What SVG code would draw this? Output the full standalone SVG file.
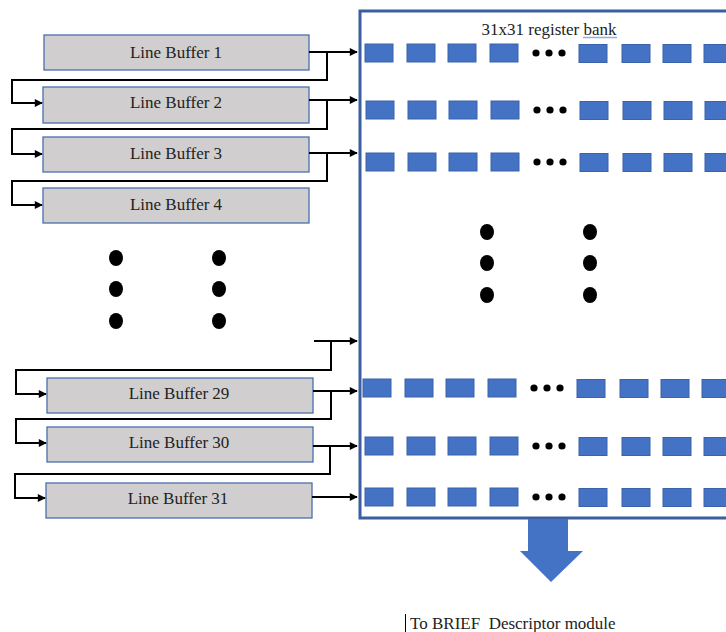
<svg xmlns="http://www.w3.org/2000/svg" width="726" height="632" viewBox="0 0 726 632">
<style>
.lb{fill:#d0cece;stroke:#4a6fae;stroke-width:1.3}
.t{font-family:"Liberation Serif","Times New Roman","DejaVu Serif",serif;font-size:17px;fill:#222;text-anchor:middle}
.c{fill:none;stroke:#000;stroke-width:2}
.r{fill:#4472c4;stroke:#3a62a8;stroke-width:1}
.d{fill:#000}
</style>
<defs>
<marker id="ah" viewBox="0 0 10 10" refX="9" refY="5" markerWidth="9" markerHeight="8" markerUnits="userSpaceOnUse" orient="auto"><path d="M0,0 L10,5 L0,10 z" fill="#000"/></marker>
<g id="row">
<rect class="r" x="0" y="0" width="28" height="18"/>
<rect class="r" x="42" y="0" width="28" height="18"/>
<rect class="r" x="83" y="0" width="28" height="18"/>
<rect class="r" x="125" y="0" width="28" height="18"/>
<circle class="d" cx="171" cy="9" r="3.6"/>
<circle class="d" cx="184" cy="9" r="3.6"/>
<circle class="d" cx="197" cy="9" r="3.6"/>
<rect class="r" x="214" y="0.5" width="28" height="18"/>
<rect class="r" x="257" y="0.5" width="28" height="18"/>
<rect class="r" x="298" y="0.5" width="28" height="18"/>
<rect class="r" x="339" y="0.5" width="28" height="18"/>
</g>
</defs>

<g id="register-bank">
<rect x="360" y="11" width="380" height="507" fill="none" stroke="#3b5ea0" stroke-width="3"/>
<text class="t" x="549" y="35">31x31 register bank</text>
<line x1="583" y1="37.5" x2="617" y2="37.5" stroke="#8fb0e8" stroke-width="1.5"/>
<use href="#row" x="365" y="44"/>
<use href="#row" x="366" y="101"/>
<use href="#row" x="366" y="153"/>
<use href="#row" x="363" y="379"/>
<use href="#row" x="365" y="437"/>
<use href="#row" x="365" y="488"/>
<ellipse class="d" cx="487" cy="232" rx="7" ry="8"/>
<ellipse class="d" cx="487" cy="263" rx="7" ry="8"/>
<ellipse class="d" cx="487" cy="295" rx="7" ry="8"/>
<ellipse class="d" cx="590" cy="232" rx="7" ry="8"/>
<ellipse class="d" cx="590" cy="263" rx="7" ry="8"/>
<ellipse class="d" cx="590" cy="295" rx="7" ry="8"/>
</g>

<g id="lb1"><rect class="lb" x="44" y="35" width="265" height="35"/><text class="t" x="176" y="58">Line Buffer 1</text></g>
<g id="lb2"><rect class="lb" x="43" y="87" width="266" height="36"/><text class="t" x="176" y="108">Line Buffer 2</text></g>
<g id="lb3"><rect class="lb" x="43" y="137" width="266" height="35"/><text class="t" x="176" y="159">Line Buffer 3</text></g>
<g id="lb4"><rect class="lb" x="43" y="188" width="266" height="35"/><text class="t" x="176" y="210">Line Buffer 4</text></g>
<g id="lb29"><rect class="lb" x="47" y="378" width="266" height="35"/><text class="t" x="179" y="399">Line Buffer 29</text></g>
<g id="lb30"><rect class="lb" x="47" y="427" width="266" height="35"/><text class="t" x="179" y="448">Line Buffer 30</text></g>
<g id="lb31"><rect class="lb" x="46" y="483" width="266" height="35"/><text class="t" x="178" y="504">Line Buffer 31</text></g>

<g id="left-dots">
<ellipse class="d" cx="116" cy="258" rx="7" ry="8"/>
<ellipse class="d" cx="116" cy="289" rx="7" ry="8"/>
<ellipse class="d" cx="116" cy="321" rx="7" ry="8"/>
<ellipse class="d" cx="219" cy="258" rx="7" ry="8"/>
<ellipse class="d" cx="219" cy="289" rx="7" ry="8"/>
<ellipse class="d" cx="219" cy="321" rx="7" ry="8"/>
</g>

<g id="connectors">
<path class="c" d="M309,52 H357" marker-end="url(#ah)"/>
<path class="c" d="M327,52 V80 H12 V103 H42" marker-end="url(#ah)"/>
<path class="c" d="M309,100 H357" marker-end="url(#ah)"/>
<path class="c" d="M327,100 V129 H12 V154 H42" marker-end="url(#ah)"/>
<path class="c" d="M309,153 H357" marker-end="url(#ah)"/>
<path class="c" d="M327,153 V181 H12 V205 H42" marker-end="url(#ah)"/>
<path class="c" d="M314,341 H357" marker-end="url(#ah)"/>
<path class="c" d="M331,341 V370 H16 V394 H46" marker-end="url(#ah)"/>
<path class="c" d="M313,391 H357" marker-end="url(#ah)"/>
<path class="c" d="M331,391 V419 H16 V443 H46" marker-end="url(#ah)"/>
<path class="c" d="M313,446 H357" marker-end="url(#ah)"/>
<path class="c" d="M330,446 V474 H15 V498 H45" marker-end="url(#ah)"/>
<path class="c" d="M312,497 H357" marker-end="url(#ah)"/>
</g>

<g id="output-arrow">
<path d="M528,519 H568 V551 H583 L551,582 L520,551 H528 Z" fill="#4472c4"/>
</g>
<g id="output-label">
<line x1="405.5" y1="614" x2="405.5" y2="632" stroke="#000" stroke-width="1"/>
<text class="t" x="410" y="629" style="text-anchor:start" xml:space="preserve">To BRIEF  Descriptor module</text>
</g>
</svg>
